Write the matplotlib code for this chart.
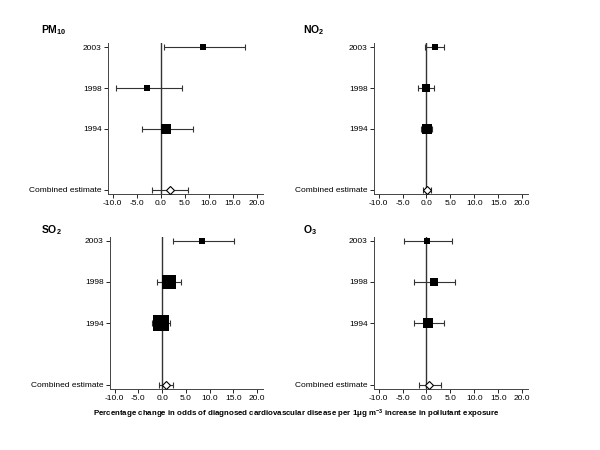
import matplotlib
matplotlib.use("Agg")
import matplotlib.pyplot as plt

plt.rcParams['font.family'] = ['Liberation Sans', 'DejaVu Sans']
plt.rcParams['mathtext.default'] = 'regular'

rows = ["Combined estimate", "1994", "1998", "2003"]

# per pollutant: estimate, lower CI, upper CI, marker size (weight); order = rows
pm10_est = [1.8, 1.1, -2.8, 8.7]
pm10_lo = [-1.9, -4.0, -9.4, 0.7]
pm10_hi = [5.7, 6.6, 4.4, 17.5]
pm10_size = [4.5, 6.5, 4.6, 4.6]

no2_est = [0.1, 0.1, -0.1, 1.7]
no2_lo = [-0.7, -1.1, -1.7, -0.3]
no2_hi = [1.0, 1.2, 1.5, 3.6]
no2_size = [4.5, 6.5, 5.2, 4.2]

so2_est = [0.8, -0.2, 1.5, 8.4]
so2_lo = [-0.6, -2.2, -1.1, 2.2]
so2_hi = [2.4, 1.7, 4.0, 15.2]
so2_size = [4.5, 12.2, 9.4, 4.5]

o3_est = [0.6, 0.4, 1.5, 0.2]
o3_lo = [-1.5, -2.6, -2.7, -4.7]
o3_hi = [3.0, 3.7, 6.0, 5.3]
o3_size = [4.5, 6.5, 5.2, 4.3]

titles = ["PM$_{10}$", "NO$_2$", "SO$_2$", "O$_3$"]
panels = [(pm10_est, pm10_lo, pm10_hi, pm10_size),
          (no2_est, no2_lo, no2_hi, no2_size),
          (so2_est, so2_lo, so2_hi, so2_size),
          (o3_est, o3_lo, o3_hi, o3_size)]

ypos = [0, 1.5, 2.5, 3.5]
xticks = [-10, -5, 0, 5, 10, 15, 20]

fig = plt.figure(figsize=(6, 4.5), dpi=100)
boxes = [[0.180, 0.569, 0.258, 0.335],
         [0.623, 0.569, 0.257, 0.335],
         [0.183, 0.136, 0.255, 0.338],
         [0.623, 0.136, 0.257, 0.338]]
title_pos = [(0.068, 0.933), (0.505, 0.933), (0.068, 0.488), (0.505, 0.488)]

for box, (est, lo, hi, size), title, tp in zip(boxes, panels, titles, title_pos):
    ax = fig.add_axes(box)
    ax.axvline(0, color='#333333', lw=1.0, zorder=1)
    for i in range(len(rows)):
        ax.errorbar(est[i], ypos[i], xerr=[[est[i] - lo[i]], [hi[i] - est[i]]],
                    fmt='none', ecolor='#333333', elinewidth=0.8, capsize=2.5,
                    capthick=0.8, zorder=2)
        if i == 0:
            ax.plot(est[i], ypos[i], marker='D', ms=size[i], mfc='white',
                    mec='black', mew=0.8, zorder=3)
        else:
            ax.plot(est[i], ypos[i], marker='s', ms=size[i], mfc='black',
                    mec='black', mew=0, zorder=3)
    ax.set_xlim(-11, 21.2)
    ax.set_ylim(-0.1, 3.6)
    ax.set_yticks(ypos)
    ax.set_yticklabels(rows)
    ax.set_xticks(xticks)
    ax.set_xticklabels([f"{v:.1f}" for v in xticks])
    ax.tick_params(labelsize=6, length=3, width=0.6, pad=1.5)
    for s in ['top', 'right']:
        ax.spines[s].set_visible(False)
    for s in ['left', 'bottom']:
        ax.spines[s].set_linewidth(0.7)
        ax.spines[s].set_color('#444444')
    fig.text(tp[0], tp[1], title, fontsize=7.5, fontweight='bold', ha='left', va='center')

fig.text(0.493, 0.08,
         "Percentage change in odds of diagnosed cardiovascular disease per 1\u03bcg m$^{-3}$ increase in pollutant exposure",
         fontsize=5.7, fontweight='bold', ha='center', va='center')

fig.savefig("out.png", dpi=100)
